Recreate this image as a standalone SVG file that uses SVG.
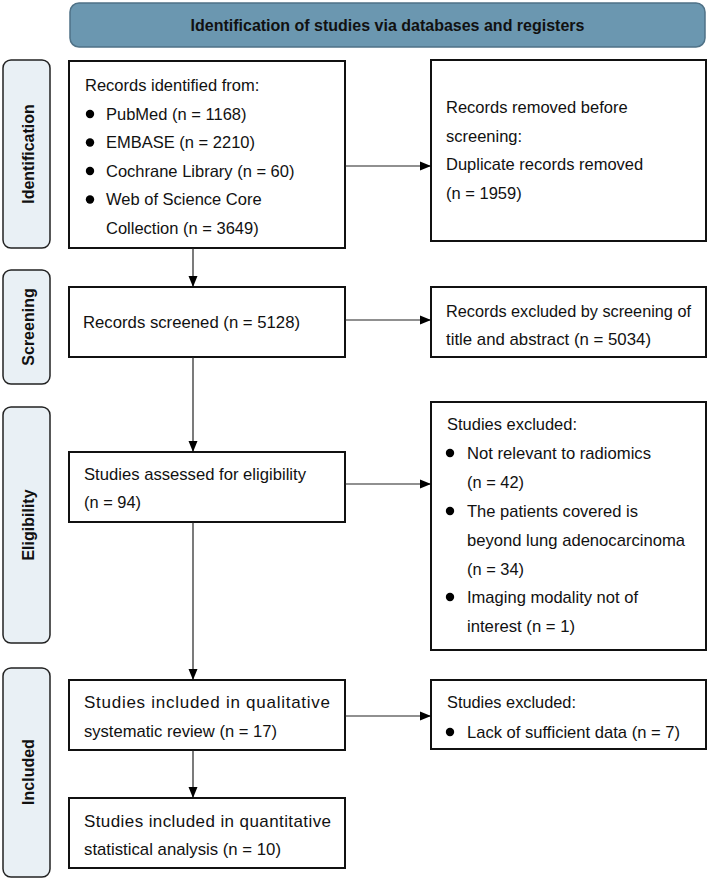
<svg xmlns="http://www.w3.org/2000/svg" width="708" height="881" viewBox="0 0 708 881">
<defs>
<marker id="ah" markerWidth="11" markerHeight="10" refX="10" refY="5" orient="auto" markerUnits="userSpaceOnUse">
<path d="M0,0.5 L11,5 L0,9.5 Z" fill="#000"/>
</marker>
<style>
.box{fill:#fff;stroke:#111;stroke-width:2}
.side{fill:#e9f0f5;stroke:#222;stroke-width:1.5}
.t{font-family:"Liberation Sans",Arial,sans-serif;font-size:16.5px;fill:#111}
.n{font-family:"Liberation Sans",Arial,sans-serif;font-size:17px;fill:#111}
.sl{font-family:"Liberation Sans",Arial,sans-serif;font-size:16px;font-weight:bold;fill:#111}
.c{stroke:#222;stroke-width:1.2;fill:none;marker-end:url(#ah)}
</style>
</defs>
<rect width="708" height="881" fill="#fff"/>
<g id="header">
<rect x="70" y="3" width="635" height="44" rx="9" fill="#6b97b0" stroke="#4f7287" stroke-width="1.5"/>
<text x="387.5" y="31" text-anchor="middle" class="sl" font-size="17.3">Identification of studies via databases and registers</text>
</g>
<g id="side-identification">
<rect x="3" y="60" width="47" height="188" rx="8" class="side"/>
<text transform="translate(34,154) rotate(-90)" text-anchor="middle" class="sl">Identification</text>
</g>
<g id="side-screening">
<rect x="3" y="270" width="47" height="114" rx="8" class="side"/>
<text transform="translate(34,327) rotate(-90)" text-anchor="middle" class="sl">Screening</text>
</g>
<g id="side-eligibility">
<rect x="3" y="407" width="47" height="236" rx="8" class="side"/>
<text transform="translate(34,525) rotate(-90)" text-anchor="middle" class="sl">Eligibility</text>
</g>
<g id="side-included">
<rect x="3" y="668" width="47" height="209" rx="8" class="side"/>
<text transform="translate(34,772) rotate(-90)" text-anchor="middle" class="sl">Included</text>
</g>
<g id="identified">
<rect x="69" y="61" width="276" height="187" class="box"/>
<text x="85" y="91" class="t">Records identified from:</text>
<circle cx="90" cy="114" r="4.2" fill="#000"/><text x="106" y="119.5" class="t">PubMed (n = 1168)</text>
<circle cx="90" cy="142.5" r="4.2" fill="#000"/><text x="106" y="148" class="t">EMBASE (n = 2210)</text>
<circle cx="90" cy="171" r="4.2" fill="#000"/><text x="106" y="176.5" class="t">Cochrane Library (n = 60)</text>
<circle cx="90" cy="199.5" r="4.2" fill="#000"/><text x="106" y="205" class="t">Web of Science Core</text>
<text x="106" y="233.5" class="t">Collection (n = 3649)</text>
</g>
<g id="removed">
<rect x="431" y="60" width="275" height="181" class="box"/>
<text x="446" y="113" class="t">Records removed before</text>
<text x="446" y="142" class="t">screening:</text>
<text x="446" y="170" class="t">Duplicate records removed</text>
<text x="446" y="199" class="t">(n = 1959)</text>
</g>
<g id="screened">
<rect x="69" y="287" width="276" height="70" class="box"/>
<text x="83" y="328" class="n" textLength="217" lengthAdjust="spacingAndGlyphs">Records screened (n = 5128)</text>
</g>
<g id="excluded-screen">
<rect x="431" y="287" width="275" height="70" class="box"/>
<text x="446" y="317" class="n" textLength="245" lengthAdjust="spacingAndGlyphs">Records excluded by screening of</text>
<text x="446" y="345" class="n" textLength="205" lengthAdjust="spacingAndGlyphs">title and abstract (n = 5034)</text>
</g>
<g id="assessed">
<rect x="69" y="452" width="276" height="70" class="box"/>
<text x="84" y="480" class="n" textLength="222" lengthAdjust="spacingAndGlyphs">Studies assessed for eligibility</text>
<text x="84" y="508" class="n" textLength="57" lengthAdjust="spacingAndGlyphs">(n = 94)</text>
</g>
<g id="excluded-elig">
<rect x="431" y="402" width="275" height="248" class="box"/>
<text x="447" y="430" class="n" textLength="130" lengthAdjust="spacingAndGlyphs">Studies excluded:</text>
<circle cx="450" cy="453" r="4.2" fill="#000"/><text x="467" y="459" class="n" textLength="184" lengthAdjust="spacingAndGlyphs">Not relevant to radiomics</text>
<text x="467" y="488" class="n" textLength="57" lengthAdjust="spacingAndGlyphs">(n = 42)</text>
<circle cx="450" cy="511" r="4.2" fill="#000"/><text x="467" y="517" class="n" textLength="171" lengthAdjust="spacingAndGlyphs">The patients covered is</text>
<text x="467" y="546" class="n" textLength="218" lengthAdjust="spacingAndGlyphs">beyond lung adenocarcinoma</text>
<text x="467" y="575" class="n" textLength="57" lengthAdjust="spacingAndGlyphs">(n = 34)</text>
<circle cx="450" cy="597" r="4.2" fill="#000"/><text x="467" y="603" class="n" textLength="171" lengthAdjust="spacingAndGlyphs">Imaging modality not of</text>
<text x="467" y="632" class="n" textLength="108" lengthAdjust="spacingAndGlyphs">interest (n = 1)</text>
</g>
<g id="qualitative">
<rect x="69" y="680" width="276" height="70" class="box"/>
<text x="84" y="708" class="n" textLength="246" lengthAdjust="spacing">Studies included in qualitative</text>
<text x="84" y="737" class="n" textLength="193" lengthAdjust="spacingAndGlyphs">systematic review (n = 17)</text>
</g>
<g id="excluded-incl">
<rect x="431" y="680" width="275" height="69" class="box"/>
<text x="447" y="708" class="n" textLength="129" lengthAdjust="spacingAndGlyphs">Studies excluded:</text>
<circle cx="450" cy="732" r="4.2" fill="#000"/><text x="467" y="738" class="n" textLength="213" lengthAdjust="spacingAndGlyphs">Lack of sufficient data (n = 7)</text>
</g>
<g id="quantitative">
<rect x="69" y="798" width="276" height="70" class="box"/>
<text x="84" y="827" class="n" textLength="247" lengthAdjust="spacing">Studies included in quantitative</text>
<text x="84" y="855" class="n" textLength="197" lengthAdjust="spacingAndGlyphs">statistical analysis (n = 10)</text>
</g>
<g id="connectors">
<line x1="193" y1="248" x2="193" y2="286" class="c"/>
<line x1="193" y1="357" x2="193" y2="451" class="c"/>
<line x1="193" y1="522" x2="193" y2="679" class="c"/>
<line x1="193" y1="750" x2="193" y2="797" class="c"/>
<line x1="345" y1="166" x2="430" y2="166" class="c"/>
<line x1="345" y1="320" x2="430" y2="320" class="c"/>
<line x1="345" y1="484" x2="430" y2="484" class="c"/>
<line x1="345" y1="716" x2="430" y2="716" class="c"/>
</g>
</svg>
